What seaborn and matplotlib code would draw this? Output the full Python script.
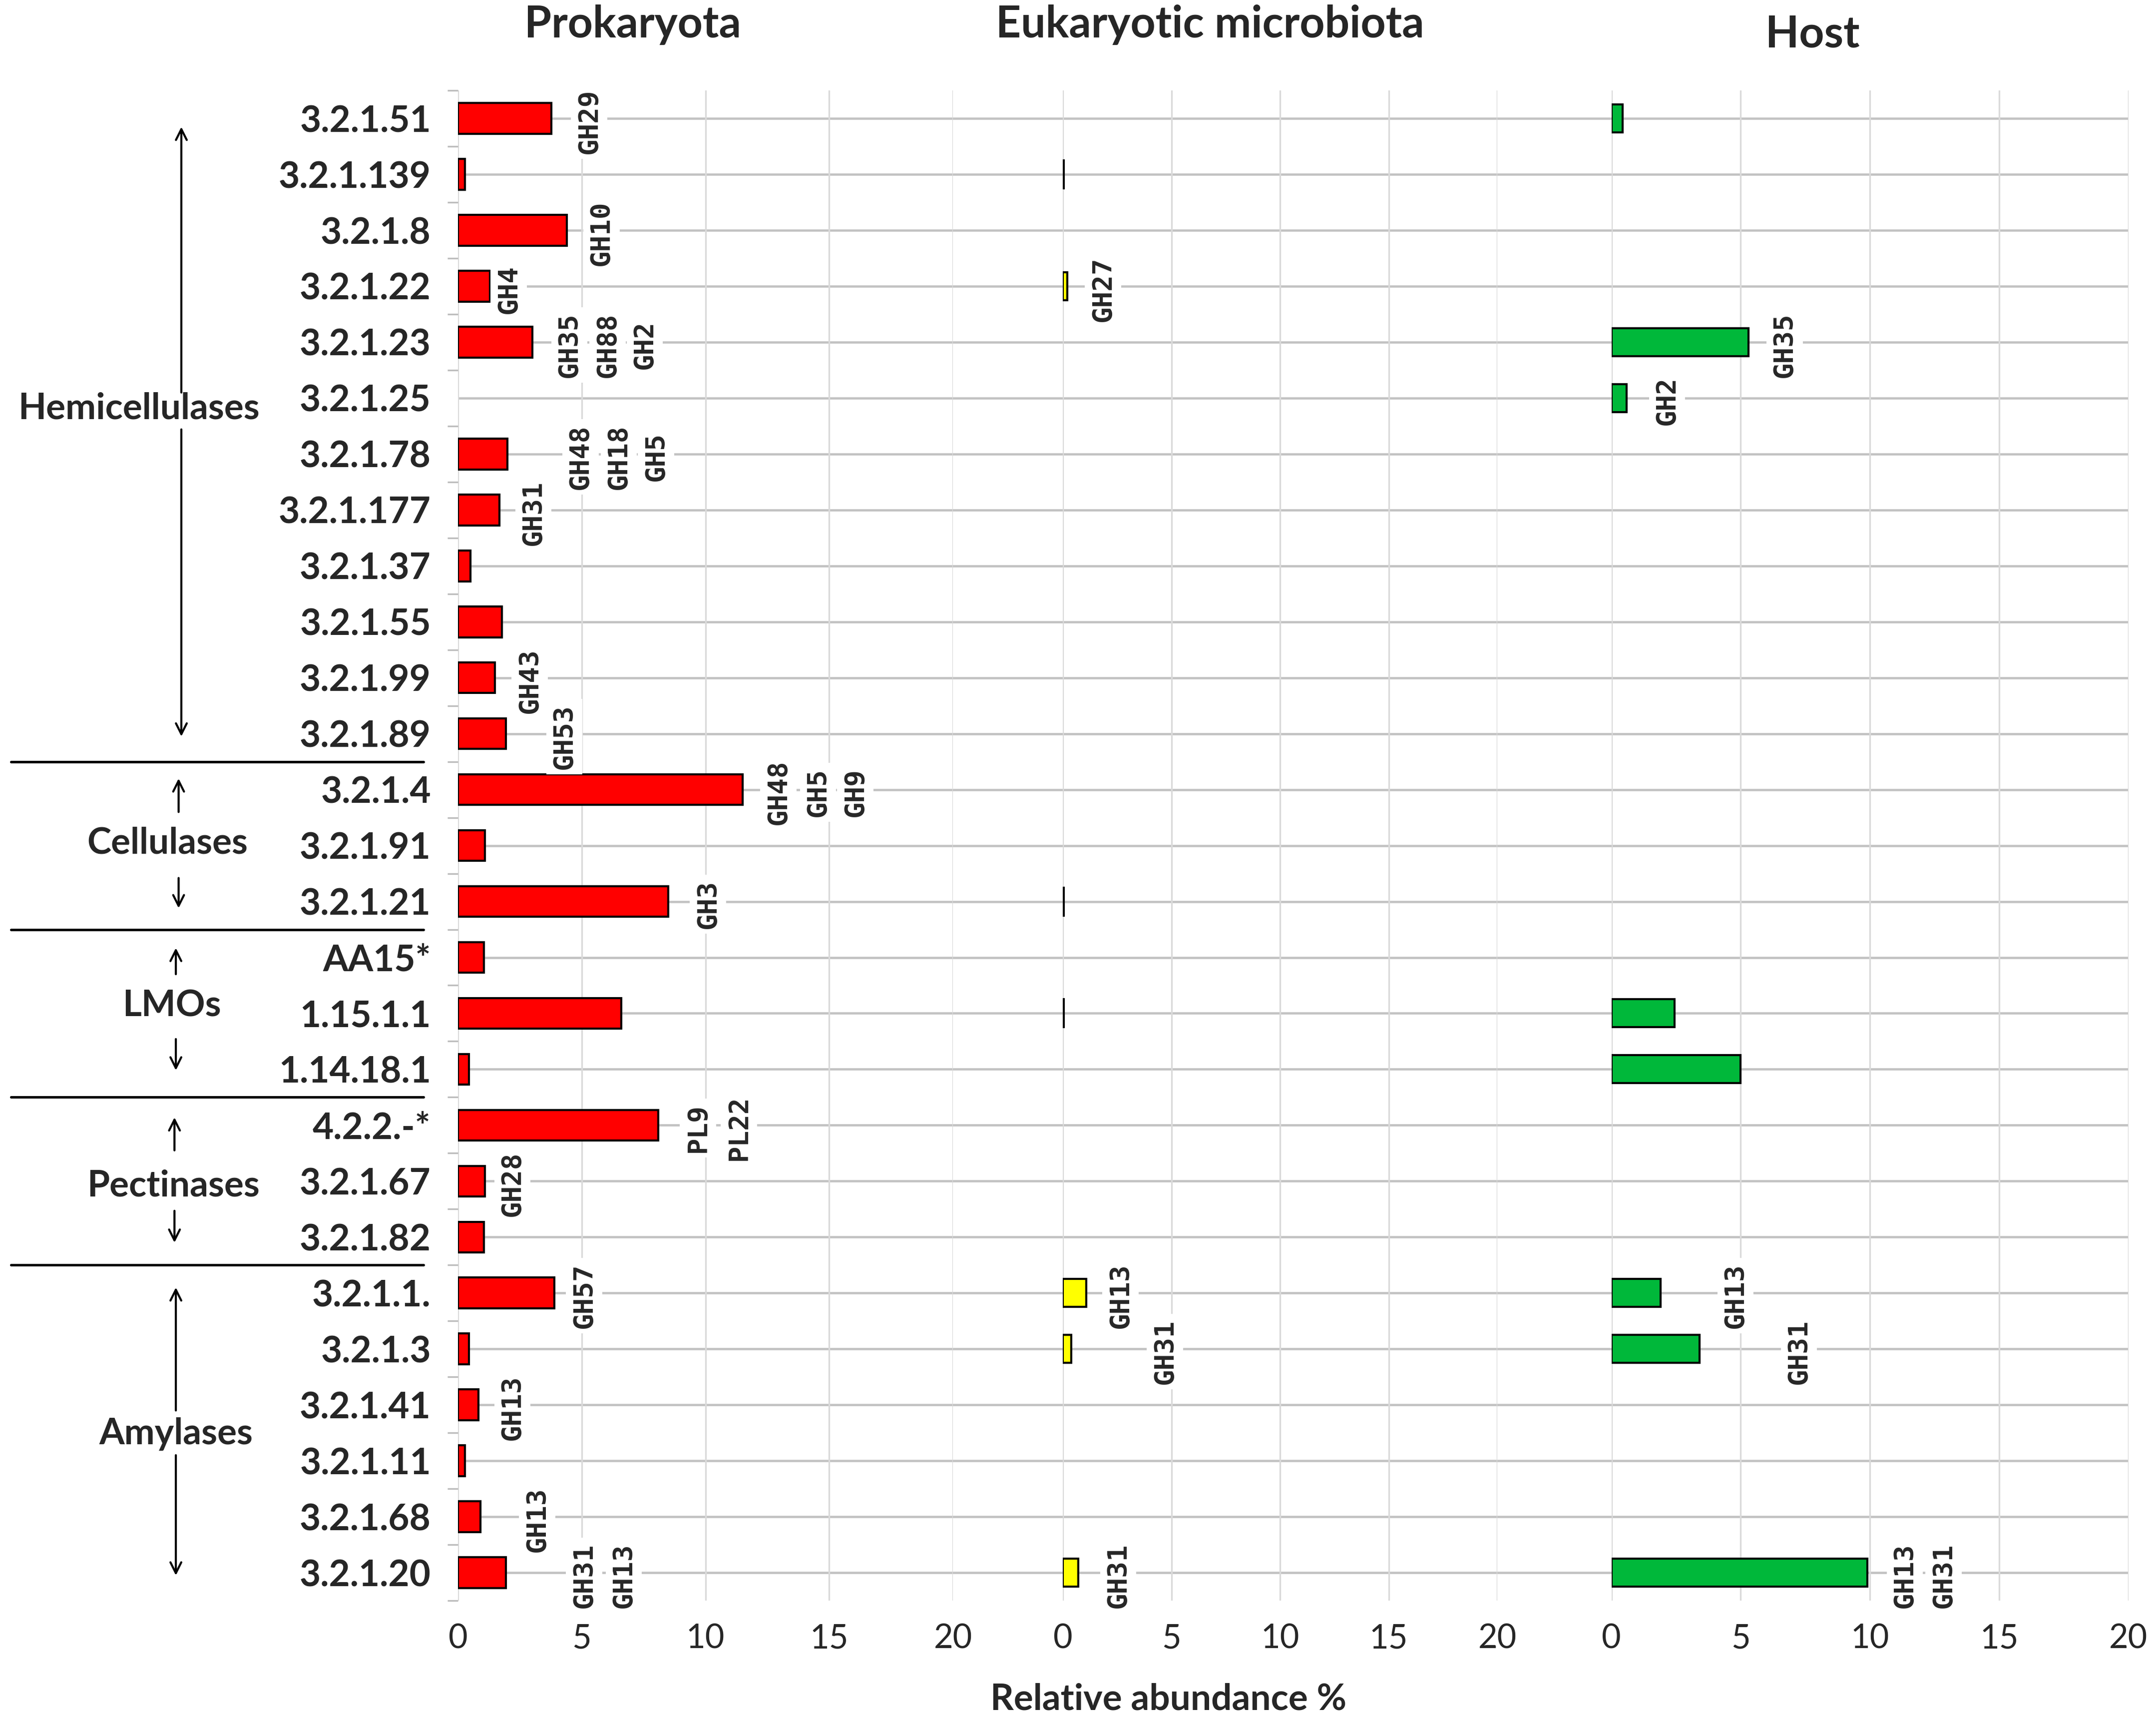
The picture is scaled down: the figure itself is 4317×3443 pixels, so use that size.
import numpy as np
import pandas as pd
import matplotlib.pyplot as plt
import seaborn as sns

# ---- data ----
ec_numbers = ["3.2.1.51", "3.2.1.139", "3.2.1.8", "3.2.1.22", "3.2.1.23", "3.2.1.25",
              "3.2.1.78", "3.2.1.177", "3.2.1.37", "3.2.1.55", "3.2.1.99", "3.2.1.89",
              "3.2.1.4", "3.2.1.91", "3.2.1.21",
              "AA15*", "1.15.1.1", "1.14.18.1",
              "4.2.2.-*", "3.2.1.67", "3.2.1.82",
              "3.2.1.1.", "3.2.1.3", "3.2.1.41", "3.2.1.11", "3.2.1.68", "3.2.1.20"]

prokaryota = [3.78, 0.28, 4.4, 1.3, 3.0, 0, 2.0, 1.67, 0.5, 1.78, 1.5, 1.94,
              11.5, 1.1, 8.5,
              1.05, 6.6, 0.45,
              8.1, 1.1, 1.05,
              3.9, 0.45, 0.83, 0.28, 0.9, 1.94]
eukaryota = [0, 0.05, 0, 0.2, 0, 0, 0, 0, 0, 0, 0, 0,
             0, 0, 0.05,
             0, 0.05, 0,
             0, 0, 0,
             1.08, 0.38, 0, 0, 0, 0.7]
host = [0.43, 0, 0, 0, 5.3, 0.58, 0, 0, 0, 0, 0, 0,
        0, 0, 0,
        0, 2.45, 5.0,
        0, 0, 0,
        1.9, 3.4, 0, 0, 0, 9.9]

group_names = ["Hemicellulases", "Cellulases", "LMOs", "Pectinases", "Amylases"]
group_sizes = [12, 3, 3, 3, 6]

# family labels per panel: (ec number, family)
prok_families = [("3.2.1.51", "GH29"), ("3.2.1.8", "GH10"), ("3.2.1.22", "GH4"),
                 ("3.2.1.23", "GH35"), ("3.2.1.23", "GH88"), ("3.2.1.23", "GH2"),
                 ("3.2.1.78", "GH48"), ("3.2.1.78", "GH18"), ("3.2.1.78", "GH5"),
                 ("3.2.1.177", "GH31"), ("3.2.1.99", "GH43"), ("3.2.1.89", "GH53"),
                 ("3.2.1.4", "GH48"), ("3.2.1.4", "GH5"), ("3.2.1.4", "GH9"),
                 ("3.2.1.21", "GH3"), ("4.2.2.-*", "PL9"), ("4.2.2.-*", "PL22"),
                 ("3.2.1.67", "GH28"), ("3.2.1.1.", "GH57"), ("3.2.1.41", "GH13"),
                 ("3.2.1.68", "GH13"), ("3.2.1.20", "GH31"), ("3.2.1.20", "GH13")]
euk_families = [("3.2.1.22", "GH27"), ("3.2.1.1.", "GH13"),
                ("3.2.1.3", "GH31"), ("3.2.1.20", "GH31")]
host_families = [("3.2.1.23", "GH35"), ("3.2.1.25", "GH2"), ("3.2.1.1.", "GH13"),
                 ("3.2.1.3", "GH31"), ("3.2.1.20", "GH13"), ("3.2.1.20", "GH31")]

# where each family label sits along x (data units), same order as above
prok_label_x = [5.3, 5.8, 2.05, 4.5, 6.05, 7.55, 4.95, 6.5, 8.0, 3.05, 2.9, 4.3,
                12.95, 14.55, 16.05, 10.1, 9.7, 11.35, 2.2, 5.1, 2.2, 3.2, 5.1, 6.7]
euk_label_x = [1.85, 2.65, 4.7, 2.55]
host_label_x = [6.7, 2.15, 4.8, 7.25, 11.35, 12.85]

panels = [("Prokaryota", prokaryota, "#FF0000", prok_families, prok_label_x, 0.55),
          ("Eukaryotic microbiota", eukaryota, "#FFFF00", euk_families, euk_label_x, 0.5),
          ("Host", host, "#00B83A", host_families, host_label_x, 0.5)]

sns.set_style("white")
plt.rcParams['font.family'] = ['Lato', 'DejaVu Sans']

fig = plt.figure(figsize=(4317 / 300, 3443 / 300), dpi=300)

n = len(ec_numbers)
bottom, height = 0.0694, 0.878
lefts = [0.2124, 0.4930, 0.7474]
widths = [0.2296, 0.2015, 0.2398]

# continuous horizontal lines behind all three panels
bg = fig.add_axes([lefts[0], bottom, lefts[2] + widths[2] - lefts[0], height], zorder=0)
bg.set_xlim(0, 1)
bg.set_ylim(n - 0.5, -0.5)
for i in range(n):
    bg.axhline(i, color="#c2c2c2", lw=1.1)
bg.axis("off")

gh_font = dict(family="DejaVu Sans Mono", weight="bold", size=13)

for k, (title, values, color, fams, fam_x, bw) in enumerate(panels):
    ax = fig.add_axes([lefts[k], bottom, widths[k], height], zorder=2)
    ax.set_facecolor("none")
    df = pd.DataFrame({"ec": ec_numbers, "value": values})
    df = df[df["value"] > 0]
    sns.barplot(data=df, x="value", y="ec", order=ec_numbers, orient="h",
                color=color, saturation=1, edgecolor="black", linewidth=1.0,
                width=bw, ax=ax)
    ax.set_xlim(0, 20)
    ax.set_ylim(n - 0.5, -0.5)
    ax.set_xticks([0, 5, 10, 15, 20])
    ax.grid(axis="x", color="#dadada", lw=0.8)
    ax.grid(axis="y", visible=False)
    ax.set_axisbelow(True)
    ax.set_xlabel("")
    ax.set_ylabel("")
    sns.despine(ax=ax, left=True, bottom=True)
    ax.tick_params(axis="x", length=0, pad=11, labelsize=16)
    if k == 0:
        ax.set_yticks(range(n))
        ax.set_yticklabels(ec_numbers, fontsize=17.5, fontweight="bold")
        ax.set_yticks(np.arange(-0.5, n, 1), minor=True)
        ax.tick_params(axis="y", which="major", length=0, pad=13)
        ax.tick_params(axis="y", which="minor", left=True, length=5,
                       color="#bdbdbd", width=0.8)
    else:
        ax.set_yticks([])
    for (ec, fam), xpos in zip(fams, fam_x):
        row = ec_numbers.index(ec)
        ax.text(xpos, row + 0.05, fam, rotation=90, ha="center", va="center",
                fontdict=gh_font, zorder=5,
                bbox=dict(facecolor="white", edgecolor="none", pad=2.5))

# panel titles
fig.text(0.2934, 0.9856, "Prokaryota", ha="center", va="center", fontsize=21, fontweight="bold")
fig.text(0.5612, 0.9856, "Eukaryotic microbiota", ha="center", va="center", fontsize=21, fontweight="bold")
fig.text(0.8406, 0.980, "Host", ha="center", va="center", fontsize=21, fontweight="bold")
fig.text(0.542, 0.012, "Relative abundance %", ha="center", va="center", fontsize=17.5, fontweight="bold")

# enzyme group annotation on the left
lab = fig.add_axes([0, bottom, lefts[0], height], zorder=1)
lab.set_xlim(0, 1)
lab.set_ylim(n - 0.5, -0.5)
lab.axis("off")

group_label_pos = [(0.303, 5.19), (0.366, 12.96), (0.375, 15.87), (0.378, 19.09), (0.384, 23.52)]
group_arrows = [(0.396, (4.9, 0.15), (5.56, 11.05)),
                (0.390, (12.4, 11.8), (13.58, 14.12)),
                (0.384, (15.3, 14.83), (16.46, 17.02)),
                (0.381, (18.45, 17.86), (19.53, 20.1)),
                (0.384, (23.1, 20.9), (23.9, 26.05))]

for name, (gx, gy), (ax_x, up, down) in zip(group_names, group_label_pos, group_arrows):
    lab.text(gx, gy, name, ha="center", va="center", fontsize=17.5, fontweight="bold")
    for tail, tip in (up, down):
        lab.annotate("", xy=(ax_x, tip), xytext=(ax_x, tail),
                     arrowprops=dict(arrowstyle="->", color="black", lw=1.0,
                                     mutation_scale=13, shrinkA=0, shrinkB=0))

for b in np.cumsum(group_sizes)[:-1]:
    lab.plot([0.024, 0.925], [b - 0.5, b - 0.5], color="black", lw=1.2)

fig.savefig("out.png", dpi=300)
